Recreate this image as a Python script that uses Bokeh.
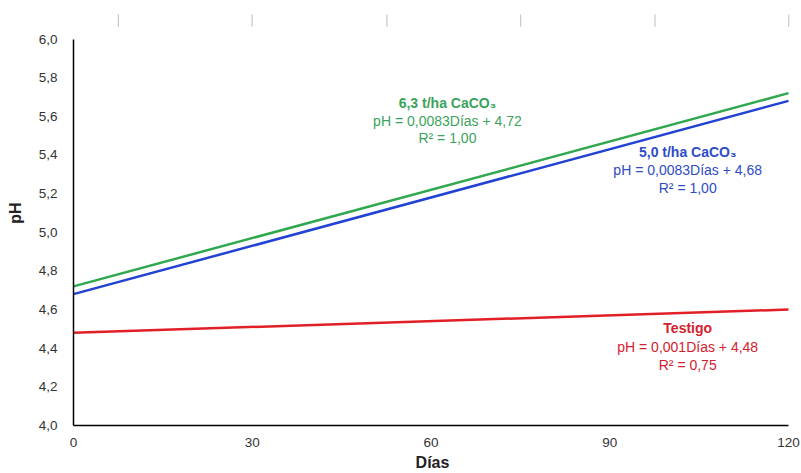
from bokeh.plotting import figure
from bokeh.models import Range1d, FixedTicker, CustomJSTickFormatter
from bokeh.embed import file_html
from bokeh.resources import INLINE
from bokeh.core.properties import value

# ---- data ----
days = [0, 120]
ph_63 = [4.72, 5.72]     # 6,3 t/ha CaCO3
ph_50 = [4.68, 5.68]     # 5,0 t/ha CaCO3
ph_testigo = [4.48, 4.60]

x_ticks = [0, 30, 60, 90, 120]
y_ticks = [4.0, 4.2, 4.4, 4.6, 4.8, 5.0, 5.2, 5.4, 5.6, 5.8, 6.0]

labels_63 = ["6,3 t/ha CaCO\u2083", "pH = 0,0083Días + 4,72", "R² = 1,00"]
labels_50 = ["5,0 t/ha CaCO\u2083", "pH = 0,0083Días + 4,68", "R² = 1,00"]
labels_t = ["Testigo", "pH = 0,001Días + 4,48", "R² = 0,75"]

# decorative tick marks at top of reference image (x in day units)
top_marks_x = [7.53, 29.98, 52.59, 75.04, 97.59, 120.03]

GREEN = "#2fa84f"
BLUE = "#2142d4"
RED = "#e21f26"
GREEN_T = "#3aa35c"
BLUE_T = "#2e4cc6"
RED_T = "#d42130"

p = figure(width=800, height=473, output_backend="svg", toolbar_location=None,
           x_range=Range1d(0, 120.5), y_range=Range1d(4.0, 6.1996),
           min_border_left=73, min_border_right=9, min_border_top=0, min_border_bottom=48)
p.outline_line_color = None
p.xgrid.visible = False
p.ygrid.visible = False
p.background_fill_color = "white"

FONT = "Liberation Sans"

for ax in (p.xaxis[0], p.yaxis[0]):
    ax.major_tick_out = 0
    ax.major_tick_in = 0
    ax.minor_tick_out = 0
    ax.minor_tick_in = 0
    ax.axis_line_color = "black"
    ax.axis_line_width = 1.5
    ax.major_label_text_font = FONT
    ax.major_label_text_font_size = "13.5px"
    ax.major_label_text_color = "#333333"
    ax.axis_label_text_font = FONT
    ax.axis_label_text_font_style = "bold"
    ax.axis_label_text_font_size = "16px"
    ax.axis_label_text_color = "#222222"

p.xaxis.ticker = FixedTicker(ticks=x_ticks)
p.xaxis.bounds = (0, 120)
p.xaxis.axis_label = "Días"
p.xaxis.major_label_standoff = 12
p.xaxis.axis_label_standoff = 4

p.yaxis.ticker = FixedTicker(ticks=y_ticks)
p.yaxis.bounds = (4.0, 6.0)
p.yaxis.axis_label = "pH"
p.yaxis.major_label_standoff = 16
p.yaxis.axis_label_standoff = 12
p.yaxis.formatter = CustomJSTickFormatter(code="return tick.toFixed(1).replace('.', ',');")

# decorative gray marks at top
p.segment(x0=top_marks_x, y0=[6.127] * len(top_marks_x), x1=top_marks_x,
          y1=[6.064] * len(top_marks_x), line_color="#c8c8c8", line_width=1.2)

p.line(days, ph_testigo, line_color=RED, line_width=2.5)
p.line(days, ph_50, line_color=BLUE, line_width=2.5)
p.line(days, ph_63, line_color=GREEN, line_width=2.5)


def annot(x, ys, texts, color):
    for i, (yy, t) in enumerate(zip(ys, texts)):
        p.text(x=[x], y=[yy], text=[t], text_color=color, text_align="center",
               text_baseline="middle", text_font=value(FONT),
               text_font_size="14px", text_font_style="bold" if i == 0 else "normal")


def px_x(px):
    return (px - 73.5) / 714.2 * 120


def px_y(py):
    return 4.0 + (422.5 - py) / 192.1


annot(px_x(447), [px_y(102), px_y(119.5), px_y(137)], labels_63, GREEN_T)
annot(px_x(687), [px_y(151), px_y(168.5), px_y(186)], labels_50, BLUE_T)
annot(px_x(687), [px_y(326), px_y(344), px_y(362)], labels_t, RED_T)

open("out.html", "w").write(file_html(p, INLINE))
